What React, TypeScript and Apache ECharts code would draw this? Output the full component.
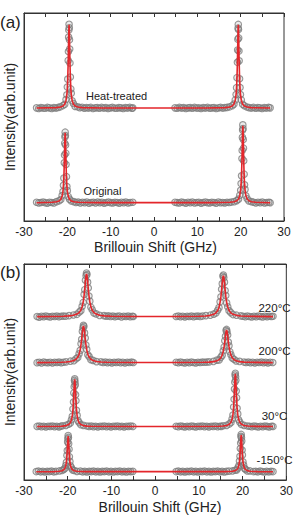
import React, { useEffect, useRef } from "react";
import * as echarts from "echarts";

type Pt = [number, number];

const FONT = "'Liberation Sans', Arial, sans-serif";

// ---------- panel (a): measured spectra (GHz, arb. intensity above baseline) ----------
const heatLeft: Pt[] = [
  [-27.1, 0.1], [-26.6, -0.2], [-26.1, 0.2], [-25.6, 0], [-25.1, -0.1], [-24.6, 0.3], [-24.1, 0.1], [-23.6, -0.2], [-23.1, 0.2], [-22.6, 0], [-22.1, 0.3],
  [-21.6, 0.6], [-21.0, 1.2], [-20.6, 1.8], [-20.3, 4.1], [-20.1, 6.4], [-20.0, 10.1], [-19.9, 13.9], [-19.8, 22.9], [-19.75, 27.2], [-19.7, 34.1], [-19.65, 37.5], [-19.6, 40.3], [-19.55, 38.6], [-19.5, 32.8], [-19.45, 28.4], [-19.4, 21.7], [-19.3, 14.9], [-19.2, 9.2], [-19.1, 7.1], [-18.9, 3.5], [-18.6, 2.2], [-18.2, 0.8], [-17.6, 0.6],
  [-17.1, 0.2], [-16.6, 0.4], [-16.1, -0.1], [-15.6, 0.2], [-15.1, 0], [-14.6, 0.3], [-14.1, -0.2], [-13.6, 0.1], [-13.1, 0.2], [-12.6, -0.1], [-12.1, 0.3], [-11.6, 0], [-11.1, 0.2], [-10.6, -0.2], [-10.1, 0.1], [-9.6, 0.3], [-9.1, 0], [-8.6, -0.1], [-8.1, 0.2], [-7.6, 0.1], [-7.1, -0.2], [-6.6, 0.2], [-6.1, 0], [-5.6, 0.3], [-5.1, -0.1], [-4.9, 0.1],
];
const heatRight: Pt[] = [
  [4.85, 0.1], [5.35, -0.1], [5.85, 0.3], [6.35, 0], [6.85, 0.2], [7.35, -0.2], [7.85, 0.1], [8.35, 0.2], [8.85, -0.1], [9.35, 0.3], [9.85, 0], [10.35, 0.1], [10.85, -0.2], [11.35, 0.2], [11.85, 0], [12.35, 0.3], [12.85, -0.1], [13.35, 0.1], [13.85, 0.2], [14.35, -0.2], [14.85, 0.1], [15.35, 0.3], [15.85, 0], [16.35, 0.2], [16.85, 0.3],
  [17.45, 0.6], [18.05, 1.1], [18.45, 1.9], [18.75, 3.9], [18.95, 6.5], [19.05, 9.8], [19.15, 14.6], [19.25, 22.0], [19.3, 27.9], [19.35, 33.1], [19.4, 38.4], [19.45, 40.2], [19.5, 37.8], [19.55, 33.7], [19.6, 27.4], [19.65, 22.7], [19.75, 14.1], [19.85, 9.9], [19.95, 6.5], [20.15, 3.9], [20.45, 1.8], [20.85, 1.1], [21.45, 0.5],
  [21.95, 0.2], [22.45, 0], [22.95, 0.3], [23.45, -0.1], [23.95, 0.2], [24.45, 0.1], [24.95, -0.2], [25.45, 0.2], [25.95, 0], [26.45, 0.3], [26.8, 0.1],
];
const heatFit: Pt[] = [
  [-27.1, 0], [-22.6, 0.2], [-21.6, 0.5], [-21.0, 1.0], [-20.6, 1.9], [-20.3, 3.8], [-20.1, 6.7], [-20.0, 9.6], [-19.9, 14.4], [-19.8, 22.4], [-19.75, 27.7], [-19.7, 33.4], [-19.65, 38.1], [-19.6, 40], [-19.55, 38.1], [-19.5, 33.4], [-19.45, 27.7], [-19.4, 22.4], [-19.3, 14.4], [-19.2, 9.6], [-19.1, 6.7], [-18.9, 3.8], [-18.6, 1.9], [-18.2, 1.0], [-17.6, 0.5], [-16.6, 0.2], [-12, 0.05],
  [12, 0.05], [16.45, 0.2], [17.45, 0.5], [18.05, 1.0], [18.45, 1.9], [18.75, 3.8], [18.95, 6.7], [19.05, 9.6], [19.15, 14.4], [19.25, 22.4], [19.3, 27.7], [19.35, 33.4], [19.4, 38.1], [19.45, 40], [19.5, 38.1], [19.55, 33.4], [19.6, 27.7], [19.65, 22.4], [19.75, 14.4], [19.85, 9.6], [19.95, 6.7], [20.15, 3.8], [20.45, 1.9], [20.85, 1.0], [21.45, 0.5], [22.45, 0.2], [26.8, 0],
];

const origLeft: Pt[] = [
  [-27.1, 0.2], [-26.6, -0.1], [-26.1, 0.1], [-25.6, 0.3], [-25.1, 0], [-24.6, -0.2], [-24.1, 0.2], [-23.6, 0.1], [-23.1, -0.1],
  [-22.5, 0.5], [-21.9, 0.9], [-21.5, 1.5], [-21.2, 3.4], [-21.0, 5.4], [-20.9, 8.4], [-20.8, 11.8], [-20.7, 19.2], [-20.65, 22.9], [-20.6, 28.6], [-20.55, 31.6], [-20.5, 33.9], [-20.45, 32.3], [-20.4, 27.7], [-20.35, 23.8], [-20.3, 18.4], [-20.2, 12.5], [-20.1, 7.8], [-20.0, 5.8], [-19.8, 3.0], [-19.5, 1.7], [-19.1, 0.8], [-18.5, 0.5],
  [-18.0, 0.1], [-17.5, 0.3], [-17.0, -0.1], [-16.5, 0.2], [-16.0, 0], [-15.5, 0.3], [-15.0, -0.2], [-14.5, 0.1], [-14.0, 0.2], [-13.5, -0.1], [-13.0, 0.3], [-12.5, 0], [-12.0, 0.2], [-11.5, -0.2], [-11.0, 0.1], [-10.5, 0.3], [-10.0, 0], [-9.5, -0.1], [-9.0, 0.2], [-8.5, 0.1], [-8.0, -0.2], [-7.5, 0.2], [-7.0, 0], [-6.5, 0.3], [-6.0, -0.1], [-5.5, 0.1], [-4.9, 0.2],
];
const origRight: Pt[] = [
  [4.85, 0.2], [5.35, 0], [5.85, -0.1], [6.35, 0.3], [6.85, 0.1], [7.35, -0.2], [7.85, 0.2], [8.35, 0], [8.85, 0.3], [9.35, -0.1], [9.85, 0.1], [10.35, 0.2], [10.85, -0.2], [11.35, 0.1], [11.85, 0.3], [12.35, 0], [12.85, -0.1], [13.35, 0.2], [13.85, 0.1], [14.35, -0.2], [14.85, 0.3], [15.35, 0], [15.85, 0.1], [16.35, -0.1], [16.85, 0.2], [17.35, 0.1], [17.85, 0.3],
  [18.5, 0.5], [19.1, 1.0], [19.5, 1.7], [19.8, 3.6], [20.0, 6.0], [20.1, 9.2], [20.2, 12.9], [20.3, 21.2], [20.35, 25.1], [20.4, 31.4], [20.45, 34.9], [20.5, 37.4], [20.55, 35.6], [20.6, 30.4], [20.65, 26.2], [20.7, 20.2], [20.8, 13.7], [20.9, 8.6], [21.0, 6.4], [21.2, 3.3], [21.5, 1.9], [21.9, 0.8], [22.5, 0.5],
  [23.0, 0.2], [23.5, -0.1], [24.0, 0.2], [24.5, 0], [25.0, 0.3], [25.5, -0.1], [26.0, 0.1], [26.5, 0.2], [26.8, 0],
];
const origFit: Pt[] = [
  [-27.1, 0], [-23.5, 0.2], [-22.5, 0.42], [-21.9, 0.85], [-21.5, 1.6], [-21.2, 3.2], [-21.0, 5.6], [-20.9, 8.1], [-20.8, 12.1], [-20.7, 18.8], [-20.65, 23.3], [-20.6, 28.1], [-20.55, 32.0], [-20.5, 33.6], [-20.45, 32.0], [-20.4, 28.1], [-20.35, 23.3], [-20.3, 18.8], [-20.2, 12.1], [-20.1, 8.1], [-20.0, 5.6], [-19.8, 3.2], [-19.5, 1.6], [-19.1, 0.85], [-18.5, 0.42], [-17.5, 0.2], [-13, 0.05],
  [13, 0.05], [17.5, 0.2], [18.5, 0.46], [19.1, 0.9], [19.5, 1.8], [19.8, 3.5], [20.0, 6.2], [20.1, 8.9], [20.2, 13.3], [20.3, 20.7], [20.35, 25.6], [20.4, 30.9], [20.45, 35.3], [20.5, 37], [20.55, 35.3], [20.6, 30.9], [20.65, 25.6], [20.7, 20.7], [20.8, 13.3], [20.9, 8.9], [21.0, 6.2], [21.2, 3.5], [21.5, 1.8], [21.9, 0.9], [22.5, 0.46], [23.5, 0.2], [26.8, 0],
];

// ---------- panel (b): temperature series ----------
const t220Left: Pt[] = [
  [-27.0, 0.1], [-26.5, -0.2], [-26.0, 0.2], [-25.5, 0], [-25.0, 0.3], [-24.5, 0.1], [-24.0, -0.1], [-23.5, 0.2], [-23.0, 0.1], [-22.5, 0.3], [-22.0, 0], [-21.5, 0.2], [-21.0, 0.3], [-20.5, 0.2],
  [-19.7, 0.5], [-18.7, 0.8], [-17.9, 1.1], [-17.4, 2.1], [-17.0, 2.8], [-16.7, 4.8], [-16.45, 6.6], [-16.25, 10.3], [-16.1, 12.5], [-15.95, 16.9], [-15.8, 19.0], [-15.7, 20.2], [-15.6, 19.5], [-15.45, 16.0], [-15.3, 13.3], [-15.15, 9.6], [-14.95, 7.2], [-14.7, 4.4], [-14.4, 3.2], [-14.0, 1.7], [-13.5, 1.3], [-12.7, 0.6], [-11.7, 0.5],
  [-11.2, 0.2], [-10.7, 0.4], [-10.2, 0.1], [-9.7, 0.3], [-9.2, 0], [-8.7, 0.2], [-8.2, 0.3], [-7.7, -0.1], [-7.2, 0.2], [-6.7, 0.1], [-6.2, 0.3], [-5.7, 0], [-5.2, 0.2], [-5.0, 0.1],
];
const t220Right: Pt[] = [
  [4.8, 0.1], [5.3, 0.3], [5.8, 0], [6.3, 0.2], [6.8, -0.1], [7.3, 0.2], [7.8, 0.1], [8.3, 0.3], [8.8, 0], [9.3, 0.2], [9.8, 0.3], [10.3, 0.1], [10.8, 0.3],
  [11.6, 0.5], [12.6, 0.7], [13.4, 1.2], [13.9, 1.7], [14.3, 3.0], [14.6, 4.2], [14.85, 6.9], [15.05, 9.2], [15.2, 12.7], [15.35, 15.3], [15.5, 18.7], [15.6, 19.3], [15.7, 18.1], [15.85, 16.0], [16.0, 12.1], [16.15, 9.8], [16.35, 6.4], [16.6, 4.6], [16.9, 2.8], [17.3, 1.9], [17.8, 1.0], [18.6, 0.7], [19.6, 0.4],
  [20.1, 0.2], [20.6, 0], [21.1, 0.3], [21.6, 0.1], [22.1, -0.1], [22.6, 0.2], [23.1, 0], [23.6, 0.3], [24.1, 0.1], [24.6, -0.1], [25.1, 0.2], [25.6, 0], [26.1, 0.2], [26.6, 0.1], [26.95, 0.2],
];
const t220Fit: Pt[] = [
  [-27.0, 0.05], [-21, 0.2], [-19.7, 0.38], [-18.7, 0.65], [-17.9, 1.2], [-17.4, 1.9], [-17.0, 3.0], [-16.7, 4.6], [-16.45, 6.9], [-16.25, 9.9], [-16.1, 12.9], [-15.95, 16.4], [-15.8, 19.2], [-15.7, 19.8], [-15.6, 19.2], [-15.45, 16.4], [-15.3, 12.9], [-15.15, 9.9], [-14.95, 6.9], [-14.7, 4.6], [-14.4, 3.0], [-14.0, 1.9], [-13.5, 1.2], [-12.7, 0.65], [-11.7, 0.38], [-10, 0.2], [-5, 0.1],
  [5, 0.1], [10, 0.2], [11.6, 0.36], [12.6, 0.63], [13.4, 1.1], [13.9, 1.8], [14.3, 2.9], [14.6, 4.4], [14.85, 6.65], [15.05, 9.5], [15.2, 12.4], [15.35, 15.7], [15.5, 18.4], [15.6, 19], [15.7, 18.4], [15.85, 15.7], [16.0, 12.4], [16.15, 9.5], [16.35, 6.65], [16.6, 4.4], [16.9, 2.9], [17.3, 1.8], [17.8, 1.1], [18.6, 0.63], [19.6, 0.36], [21, 0.2], [26.95, 0.05],
];

const t200Left: Pt[] = [
  [-27.0, 0], [-26.5, 0.2], [-26.0, -0.1], [-25.5, 0.3], [-25.0, 0.1], [-24.5, 0], [-24.0, 0.2], [-23.5, -0.1], [-23.0, 0.2], [-22.5, 0.1], [-22.0, 0.3], [-21.5, 0], [-21.0, 0.2],
  [-20.4, 0.4], [-19.4, 0.7], [-18.6, 0.9], [-18.1, 1.8], [-17.7, 2.4], [-17.4, 4.1], [-17.15, 5.7], [-16.95, 8.8], [-16.8, 10.8], [-16.65, 14.5], [-16.5, 16.2], [-16.4, 17.3], [-16.3, 16.8], [-16.15, 13.8], [-16.0, 11.4], [-15.85, 8.2], [-15.65, 6.2], [-15.4, 3.7], [-15.1, 2.8], [-14.7, 1.4], [-14.2, 1.1], [-13.4, 0.5], [-12.4, 0.4],
  [-11.9, 0.1], [-11.4, 0.3], [-10.9, 0], [-10.4, 0.2], [-9.9, -0.1], [-9.4, 0.2], [-8.9, 0.1], [-8.4, 0.3], [-7.9, 0], [-7.4, 0.2], [-6.9, -0.1], [-6.4, 0.2], [-5.9, 0.1], [-5.4, 0.3], [-5.0, 0.1],
];
const t200Right: Pt[] = [
  [4.8, 0.2], [5.3, 0], [5.8, 0.3], [6.3, 0.1], [6.8, -0.1], [7.3, 0.2], [7.8, 0], [8.3, 0.3], [8.8, 0.1], [9.3, -0.1], [9.8, 0.2], [10.3, 0.1], [10.8, 0.3], [11.3, 0.2], [11.8, 0.3],
  [12.33, 0.4], [13.33, 0.6], [14.13, 1.2], [14.63, 1.3], [15.03, 2.5], [15.33, 3.4], [15.58, 5.5], [15.78, 7.3], [15.93, 10.2], [16.08, 12.2], [16.23, 14.9], [16.33, 15.4], [16.43, 14.3], [16.58, 12.8], [16.73, 9.6], [16.88, 7.8], [17.08, 5.1], [17.33, 3.7], [17.63, 2.2], [18.03, 1.6], [18.53, 0.8], [19.33, 0.6], [20.33, 0.3],
  [20.8, 0.1], [21.3, 0.3], [21.8, 0], [22.3, 0.2], [22.8, -0.1], [23.3, 0.2], [23.8, 0.1], [24.3, 0.3], [24.8, 0], [25.3, 0.2], [25.8, -0.1], [26.3, 0.2], [26.9, 0.1],
];
const t200Fit: Pt[] = [
  [-27.0, 0.05], [-21.5, 0.2], [-20.4, 0.32], [-19.4, 0.56], [-18.6, 1.0], [-18.1, 1.6], [-17.7, 2.6], [-17.4, 3.9], [-17.15, 5.95], [-16.95, 8.5], [-16.8, 11.1], [-16.65, 14.1], [-16.5, 16.5], [-16.4, 17], [-16.3, 16.5], [-16.15, 14.1], [-16.0, 11.1], [-15.85, 8.5], [-15.65, 5.95], [-15.4, 3.9], [-15.1, 2.6], [-14.7, 1.6], [-14.2, 1.0], [-13.4, 0.56], [-12.4, 0.32], [-11, 0.2], [-5, 0.1],
  [5, 0.1], [11, 0.2], [12.33, 0.29], [13.33, 0.5], [14.13, 0.9], [14.63, 1.43], [15.03, 2.3], [15.33, 3.5], [15.58, 5.3], [15.78, 7.55], [15.93, 9.9], [16.08, 12.5], [16.23, 14.6], [16.33, 15.1], [16.43, 14.6], [16.58, 12.5], [16.73, 9.9], [16.88, 7.55], [17.08, 5.3], [17.33, 3.5], [17.63, 2.3], [18.03, 1.43], [18.53, 0.9], [19.33, 0.5], [20.33, 0.29], [21.5, 0.2], [26.9, 0.05],
];

const t30Left: Pt[] = [
  [-27.0, 0.1], [-26.5, 0.3], [-26.0, 0], [-25.5, 0.2], [-25.0, -0.1], [-24.5, 0.2], [-24.0, 0.1], [-23.5, 0.3], [-23.0, 0], [-22.5, 0.2], [-22.0, -0.1], [-21.6, 0.2],
  [-21.2, 0.4], [-20.4, 0.6], [-19.8, 1.1], [-19.4, 1.7], [-19.15, 3.2], [-18.95, 4.8], [-18.8, 8.2], [-18.68, 11.4], [-18.6, 15.6], [-18.52, 18.5], [-18.46, 21.4], [-18.4, 22.1], [-18.34, 20.7], [-18.28, 19.3], [-18.2, 14.8], [-18.12, 12.0], [-18.0, 7.6], [-17.85, 5.2], [-17.65, 2.8], [-17.4, 1.9], [-17.0, 0.9], [-16.4, 0.6], [-15.6, 0.3],
  [-15.1, 0.1], [-14.6, 0.3], [-14.1, 0], [-13.6, 0.2], [-13.1, -0.1], [-12.6, 0.2], [-12.1, 0.1], [-11.6, 0.3], [-11.1, 0], [-10.6, 0.2], [-10.1, -0.1], [-9.6, 0.2], [-9.1, 0.1], [-8.6, 0.3], [-8.1, 0], [-7.6, 0.2], [-7.1, -0.1], [-6.6, 0.2], [-6.1, 0.1], [-5.6, 0.3], [-5.1, 0.1],
];
const t30Right: Pt[] = [
  [4.8, 0.2], [5.3, 0], [5.8, 0.3], [6.3, 0.1], [6.8, -0.1], [7.3, 0.2], [7.8, 0], [8.3, 0.3], [8.8, 0.1], [9.3, -0.1], [9.8, 0.2], [10.3, 0.1], [10.8, 0.3], [11.3, 0], [11.8, 0.2], [12.3, -0.1], [12.8, 0.2], [13.3, 0.1], [13.8, 0.3], [14.3, 0], [14.8, 0.2], [15.1, 0.1],
  [15.54, 0.4], [16.34, 0.6], [16.94, 1.2], [17.34, 1.9], [17.59, 3.5], [17.79, 5.4], [17.94, 9.1], [18.06, 12.7], [18.14, 17.4], [18.22, 20.6], [18.28, 23.9], [18.34, 24.7], [18.4, 23.1], [18.46, 21.5], [18.54, 16.5], [18.62, 13.4], [18.74, 8.5], [18.89, 5.9], [19.09, 3.2], [19.34, 2.1], [19.74, 1.0], [20.34, 0.6], [21.14, 0.3],
  [21.6, 0.2], [22.1, 0], [22.6, 0.3], [23.1, 0.1], [23.6, -0.1], [24.1, 0.2], [24.6, 0], [25.1, 0.3], [25.6, 0.1], [26.1, -0.1], [26.6, 0.2], [26.95, 0.1],
];
const t30Fit: Pt[] = [
  [-27.0, 0.05], [-21.6, 0.15], [-21.2, 0.24], [-20.4, 0.48], [-19.8, 0.96], [-19.4, 1.8], [-19.15, 3.0], [-18.95, 5.0], [-18.8, 7.9], [-18.68, 11.7], [-18.6, 15.2], [-18.52, 18.9], [-18.46, 21.1], [-18.4, 21.9], [-18.34, 21.1], [-18.28, 18.9], [-18.2, 15.2], [-18.12, 11.7], [-18.0, 7.9], [-17.85, 5.0], [-17.65, 3.0], [-17.4, 1.8], [-17.0, 0.96], [-16.4, 0.48], [-15.6, 0.24], [-14.6, 0.15], [-5, 0.1],
  [5, 0.1], [14.6, 0.15], [15.54, 0.27], [16.34, 0.54], [16.94, 1.07], [17.34, 2.0], [17.59, 3.4], [17.79, 5.6], [17.94, 8.8], [18.06, 13.1], [18.14, 16.9], [18.22, 21.0], [18.28, 23.5], [18.34, 24.4], [18.4, 23.5], [18.46, 21.0], [18.54, 16.9], [18.62, 13.1], [18.74, 8.8], [18.89, 5.6], [19.09, 3.4], [19.34, 2.0], [19.74, 1.07], [20.34, 0.54], [21.14, 0.27], [22.1, 0.15], [26.95, 0.05],
];

const tm150Left: Pt[] = [
  [-27.2, 0.1], [-26.7, 0.3], [-26.2, 0], [-25.7, 0.2], [-25.2, -0.1], [-24.7, 0.2], [-24.2, 0.1], [-23.7, 0.3], [-23.2, 0],
  [-22.7, 0.2], [-21.9, 0.4], [-21.3, 0.6], [-20.9, 1.1], [-20.65, 1.5], [-20.45, 2.9], [-20.3, 4.4], [-20.18, 7.6], [-20.1, 9.8], [-20.02, 13.8], [-19.96, 15.3], [-19.9, 16.8], [-19.84, 15.9], [-19.78, 13.0], [-19.7, 10.4], [-19.62, 7.0], [-19.5, 4.8], [-19.35, 2.7], [-19.15, 1.8], [-18.9, 0.9], [-18.5, 0.6], [-17.9, 0.2], [-17.1, 0.3],
  [-16.6, 0], [-16.1, 0.2], [-15.6, -0.1], [-15.1, 0.2], [-14.6, 0.1], [-14.1, 0.3], [-13.6, 0], [-13.1, 0.2], [-12.6, -0.1], [-12.1, 0.2], [-11.6, 0.1], [-11.1, 0.3], [-10.6, 0], [-10.1, 0.2], [-9.6, -0.1], [-9.1, 0.2], [-8.6, 0.1], [-8.1, 0.3], [-7.6, 0], [-7.1, 0.2], [-6.6, -0.1], [-6.1, 0.2], [-5.6, 0.1], [-5.1, 0.2],
];
const tm150Right: Pt[] = [
  [4.8, 0.1], [5.3, 0.3], [5.8, 0], [6.3, 0.2], [6.8, -0.1], [7.3, 0.2], [7.8, 0.1], [8.3, 0.3], [8.8, 0], [9.3, 0.2], [9.8, -0.1], [10.3, 0.2], [10.8, 0.1], [11.3, 0.3], [11.8, 0], [12.3, 0.2], [12.8, -0.1], [13.3, 0.2], [13.8, 0.1], [14.3, 0.3], [14.8, 0], [15.3, 0.2], [15.8, -0.1], [16.3, 0.2],
  [16.88, 0.3], [17.68, 0.4], [18.28, 0.7], [18.68, 0.9], [18.93, 1.8], [19.13, 2.8], [19.28, 5.0], [19.4, 7.2], [19.48, 10.8], [19.56, 13.3], [19.62, 16.4], [19.68, 17.3], [19.74, 15.8], [19.8, 14.2], [19.88, 10.1], [19.96, 7.8], [20.08, 4.6], [20.23, 3.1], [20.43, 1.6], [20.68, 1.1], [21.08, 0.4], [21.68, 0.4], [22.48, 0.1],
  [23.0, 0.2], [23.5, 0], [24.0, 0.3], [24.5, 0.1], [25.0, -0.1], [25.5, 0.2], [26.0, 0], [26.5, 0.2], [26.95, 0.1],
];
const tm150Fit: Pt[] = [
  [-27.2, 0.05], [-23.2, 0.1], [-22.7, 0.13], [-21.9, 0.25], [-21.3, 0.51], [-20.9, 0.97], [-20.65, 1.65], [-20.45, 2.8], [-20.3, 4.6], [-20.18, 7.3], [-20.1, 10.1], [-20.02, 13.4], [-19.96, 15.6], [-19.9, 16.5], [-19.84, 15.6], [-19.78, 13.4], [-19.7, 10.1], [-19.62, 7.3], [-19.5, 4.6], [-19.35, 2.8], [-19.15, 1.65], [-18.9, 0.97], [-18.5, 0.51], [-17.9, 0.25], [-17.1, 0.13], [-16, 0.1], [-5, 0.1],
  [5, 0.1], [16, 0.1], [16.88, 0.14], [17.68, 0.26], [18.28, 0.53], [18.68, 1.0], [18.93, 1.7], [19.13, 2.9], [19.28, 4.8], [19.4, 7.5], [19.48, 10.4], [19.56, 13.8], [19.62, 16.1], [19.68, 17], [19.74, 16.1], [19.8, 13.8], [19.88, 10.4], [19.96, 7.5], [20.08, 4.8], [20.23, 2.9], [20.43, 1.7], [20.68, 1.0], [21.08, 0.53], [21.68, 0.26], [22.48, 0.14], [23.5, 0.1], [26.95, 0.05],
];

// vertical stacking offsets of each spectrum (arb. units, axis 0..100)
const offsetsA = [54.3, 8.8]; // heat-treated, original
const offsetsB = [75.6, 54.3, 24.7, 3.8]; // 220, 200, 30, -150 °C

const xTicks = { min: -30, max: 30, interval: 10 };

const RED = "#e3262b";
const GREY = "#7c7c7c";
const INK = "#222";

function shift(pts: Pt[], off: number): Pt[] {
  return pts.map(([x, y]) => [x, y + off] as Pt);
}

function spectrumSeries(points: Pt[], fitPts: Pt[], off: number, panel: number) {
  const xAxisIndex = panel * 2;
  const yAxisIndex = panel;
  return [
    {
      type: "scatter",
      xAxisIndex,
      yAxisIndex,
      data: shift(points, off),
      symbol: "circle",
      symbolSize: 6.5,
      itemStyle: { color: "rgba(110,110,110,0.16)", borderColor: GREY, borderWidth: 1.1 },
      silent: true,
      z: 2,
    },
    {
      type: "line",
      xAxisIndex,
      yAxisIndex,
      data: shift(fitPts, off),
      showSymbol: false,
      symbol: "none",
      lineStyle: { color: RED, width: 1.6 },
      silent: true,
      z: 3,
    },
  ];
}

function xAxisPair(gridIndex: number) {
  const tick = { show: true, inside: true, length: 4, lineStyle: { color: "#333" } };
  const minor = { show: true, splitNumber: 2, length: 4, lineStyle: { color: "#333" } };
  return [
    {
      type: "value",
      gridIndex,
      position: "bottom",
      ...xTicks,
      axisLine: { show: true, onZero: false, lineStyle: { color: "#333" } },
      axisTick: tick,
      minorTick: minor,
      axisLabel: { fontSize: 12, color: INK, margin: 5, fontFamily: FONT },
      splitLine: { show: false },
    },
    {
      type: "value",
      gridIndex,
      position: "top",
      ...xTicks,
      axisLine: { show: true, onZero: false, lineStyle: { color: "#333" } },
      axisTick: tick,
      minorTick: minor,
      axisLabel: { show: false },
      splitLine: { show: false },
    },
  ];
}

function yAxisFor(gridIndex: number) {
  return {
    type: "value",
    gridIndex,
    min: 0,
    max: 100,
    axisLine: { show: true, onZero: false, lineStyle: { color: "#333" } },
    axisTick: { show: false },
    axisLabel: { show: false },
    splitLine: { show: false },
  };
}

function label(text: string, x: number, y: number, size: number, align = "left", rotation = 0) {
  return {
    type: "text",
    x,
    y,
    rotation,
    silent: true,
    style: { text, fontSize: size, fontFamily: FONT, fill: INK, align, verticalAlign: "middle" },
  };
}

export default function App() {
  const ref = useRef<HTMLDivElement>(null);

  useEffect(() => {
    if (!ref.current) return;
    const chart = echarts.init(ref.current, undefined, { renderer: "svg" });

    const series = [
      ...spectrumSeries([...heatLeft, ...heatRight], heatFit, offsetsA[0], 0),
      ...spectrumSeries([...origLeft, ...origRight], origFit, offsetsA[1], 0),
      ...spectrumSeries([...t220Left, ...t220Right], t220Fit, offsetsB[0], 1),
      ...spectrumSeries([...t200Left, ...t200Right], t200Fit, offsetsB[1], 1),
      ...spectrumSeries([...t30Left, ...t30Right], t30Fit, offsetsB[2], 1),
      ...spectrumSeries([...tm150Left, ...tm150Right], tm150Fit, offsetsB[3], 1),
    ];

    chart.setOption({
      animation: false,
      textStyle: { fontFamily: FONT },
      grid: [
        { left: 24, width: 260, top: 13, height: 208, show: true, borderColor: "#333", borderWidth: 1 },
        { left: 24, width: 269, top: 264, height: 216, show: true, borderColor: "#333", borderWidth: 1 },
      ],
      xAxis: [...xAxisPair(0), ...xAxisPair(1)],
      yAxis: [yAxisFor(0), yAxisFor(1)],
      series,
      graphic: [
        label("(a)", 0, 22, 17),
        label("(b)", 0, 272, 17),
        label("Intensity(arb.unit)", 10, 117, 14, "center", Math.PI / 2),
        label("Intensity(arb.unit)", 10, 372, 14, "center", Math.PI / 2),
        label("Brillouin Shift (GHz)", 155.5, 247, 14, "center"),
        label("Brillouin Shift (GHz)", 160, 506.5, 14, "center"),
        label("Heat-treated", 86, 96, 11),
        label("Original", 83.5, 190.5, 11),
        label("220°C", 274.5, 307.5, 11.5, "center"),
        label("200°C", 274.5, 350.5, 11.5, "center"),
        label("30°C", 274.5, 415.5, 11.5, "center"),
        label("-150°C", 274.5, 460, 11.5, "center"),
      ],
    });

    return () => chart.dispose();
  }, []);

  return (
    <div
      ref={ref}
      style={{ position: "fixed", left: 0, top: 0, width: 296, height: 516, background: "#fff" }}
    />
  );
}
